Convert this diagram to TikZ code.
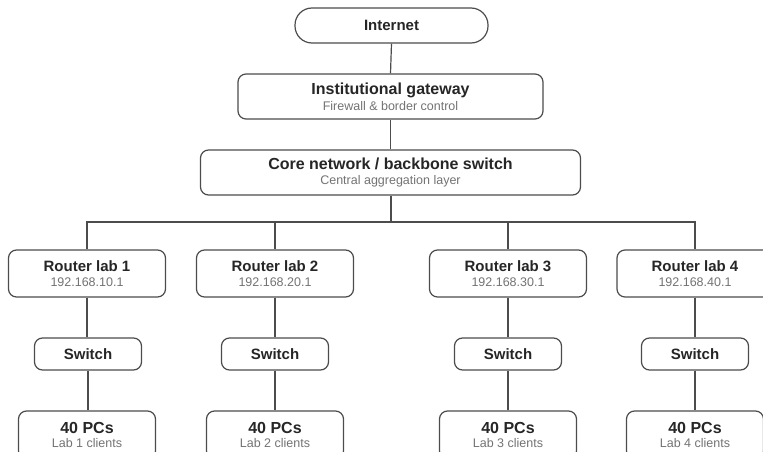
\documentclass[tikz,border=0pt]{standalone}
\usepackage{fontspec}
\setmainfont{Liberation Sans}
\begin{document}
\begin{tikzpicture}[x=1pt,y=-1pt,
  box/.style={draw=black!70, line width=1.2pt, rounded corners=8pt, fill=white, align=center, inner sep=0pt, text=black!85},
  conn/.style={draw=black!70, line width=1.2pt}
]
\newcommand{\sbt}[1]{\\[2.5pt]{\fontsize{12.5}{14}\selectfont\color{black!55}#1}}
\useasboundingbox (0,0) rectangle (763,452);
\clip (0,0) rectangle (763,452);
% top chain
\node[box, rounded corners=17pt, minimum width=193pt, minimum height=35pt, font=\bfseries\fontsize{15}{17}\selectfont] (inet) at (391.5,25.5) {Internet};
\node[box, minimum width=305pt, minimum height=45pt] (gw) at (390.5,96.5) {{\bfseries\fontsize{16}{18}\selectfont Institutional gateway}\sbt{Firewall \& border control}};
\node[box, minimum width=380pt, minimum height=45pt] (core) at (390.5,172.5) {{\bfseries\fontsize{16}{18}\selectfont Core network / backbone switch}\sbt{Central aggregation layer}};
% routers
\node[box, minimum width=157pt, minimum height=47pt] (r1) at (87,273.5) {{\bfseries\fontsize{15}{17}\selectfont Router lab 1}\sbt{192.168.10.1}};
\node[box, minimum width=157pt, minimum height=47pt] (r2) at (275,273.5) {{\bfseries\fontsize{15}{17}\selectfont Router lab 2}\sbt{192.168.20.1}};
\node[box, minimum width=157pt, minimum height=47pt] (r3) at (508,273.5) {{\bfseries\fontsize{15}{17}\selectfont Router lab 3}\sbt{192.168.30.1}};
\node[box, minimum width=156pt, minimum height=47pt] (r4) at (695,273.5) {{\bfseries\fontsize{15}{17}\selectfont Router lab 4}\sbt{192.168.40.1}};
% switches
\foreach \i/\x in {1/88,2/275,3/508,4/695}{
  \node[box, minimum width=107pt, minimum height=32pt, font=\bfseries\fontsize{15}{17}\selectfont] (s\i) at (\x,354) {Switch};
}
% PCs
\foreach \i/\x in {1/87,2/275,3/508,4/695}{
  \node[box, minimum width=137pt, minimum height=48pt] (p\i) at (\x,435) {{\bfseries\fontsize{16}{18}\selectfont 40 PCs}\sbt{Lab \i{} clients}};
}
\coordinate (bus) at (0,222);
% connectors
\draw[conn] (inet.south) -- (gw.north);
\draw[conn] (gw.south) -- (core.north);
\draw[conn, line width=2pt] (core.south) -- (core.south |- bus);
\draw[conn] (r1.north) -- (r1.north |- bus) -- (r4.north |- bus) -- (r4.north);
\draw[conn] (r2.north) -- (r2.north |- bus);
\draw[conn] (r3.north) -- (r3.north |- bus);
\foreach \i in {1,2,3,4}{
  \draw[conn] (r\i.south) -- (r\i.south |- s\i.north);
  \draw[conn] (s\i.south) -- (s\i.south |- p\i.north);
}
\end{tikzpicture}
\end{document}
